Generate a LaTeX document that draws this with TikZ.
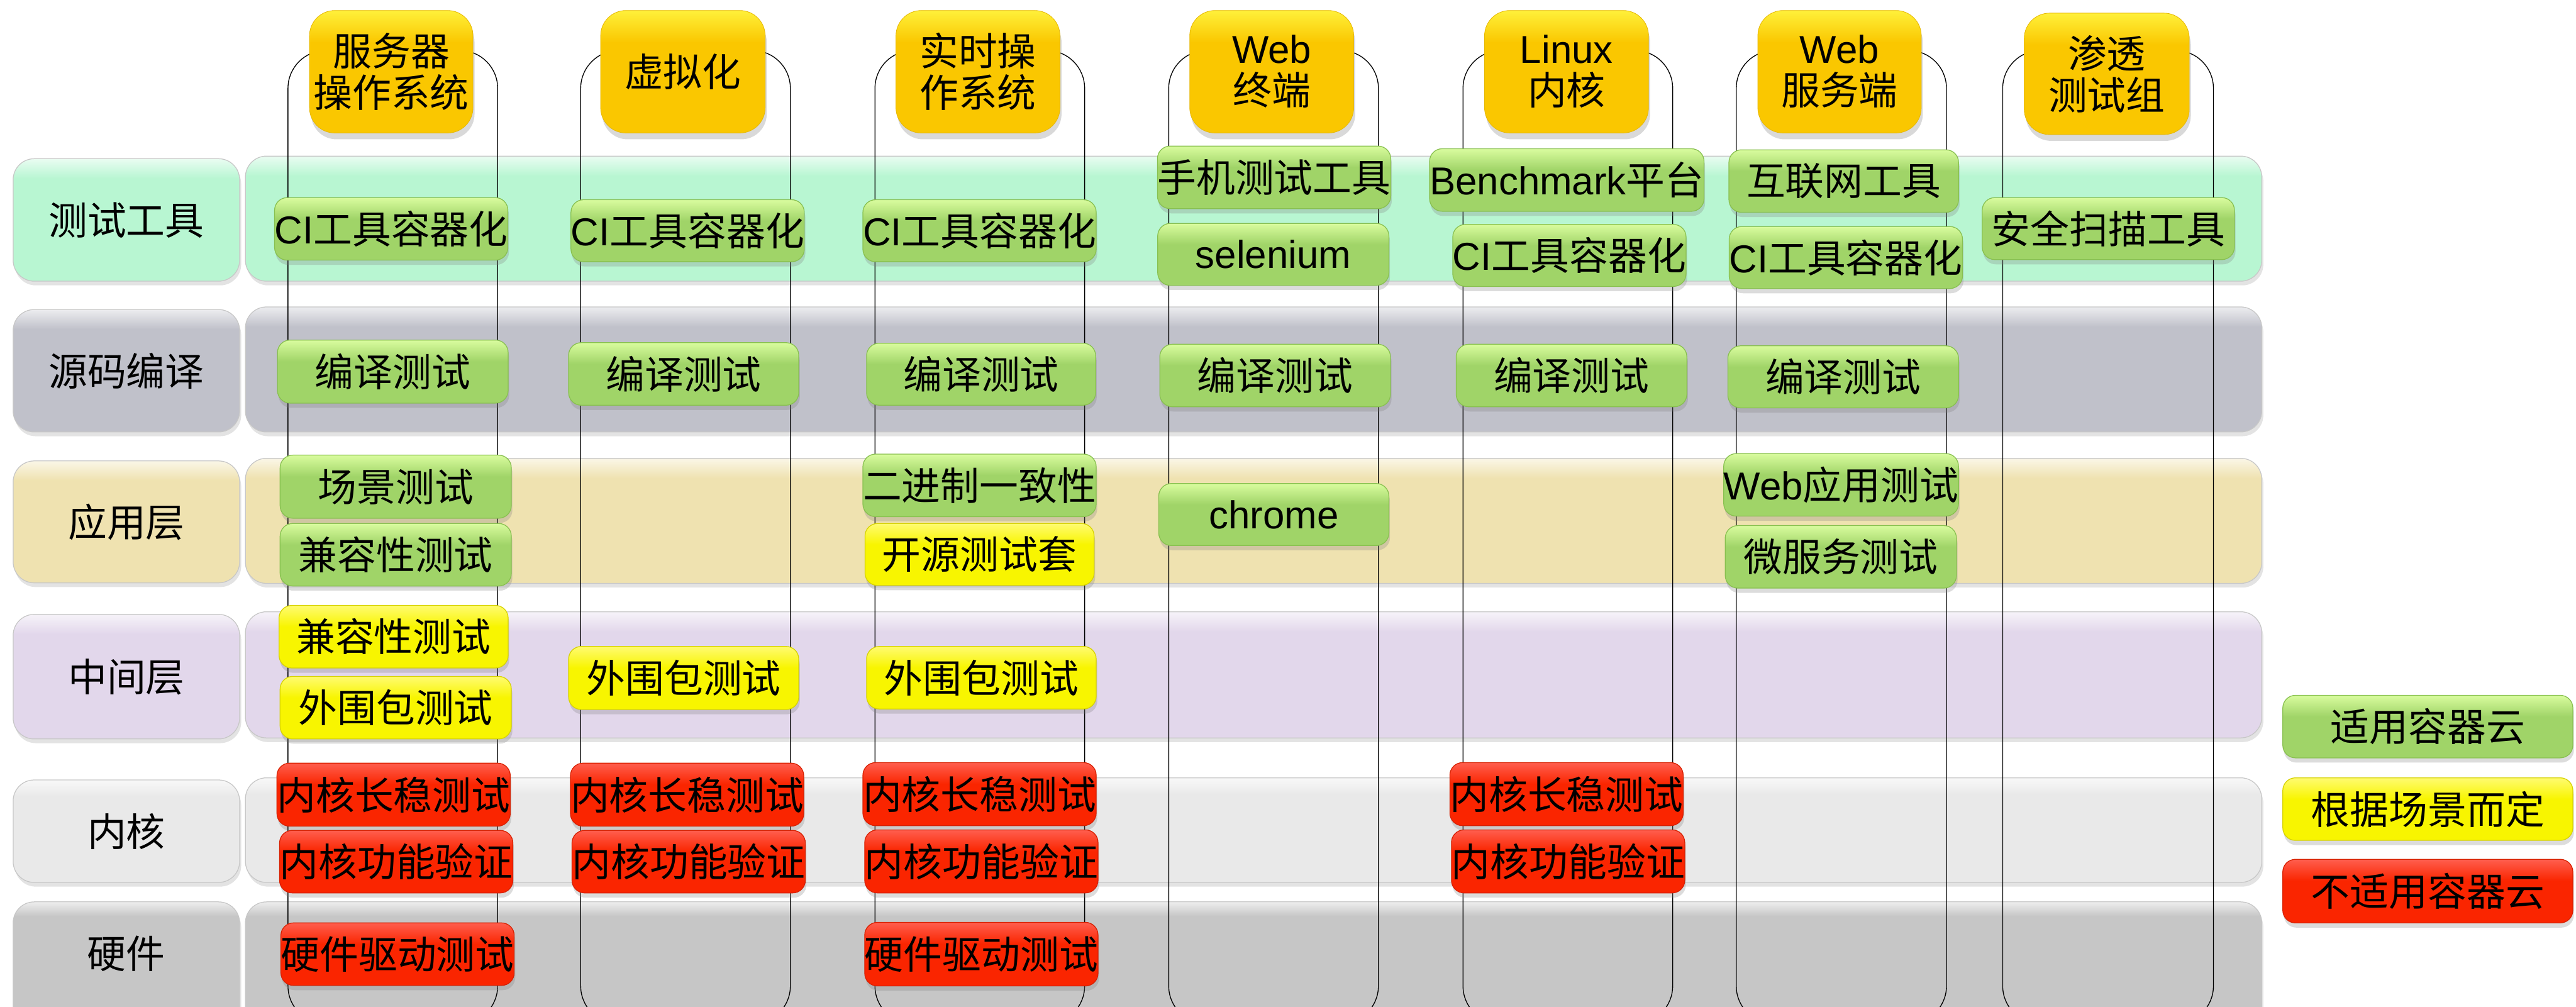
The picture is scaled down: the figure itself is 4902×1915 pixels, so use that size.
\documentclass[tikz,border=0pt]{standalone}
\usepackage{fontspec}
\setmainfont{Noto Sans CJK SC}
\newfontfamily\lat{Liberation Sans}
\usetikzlibrary{shadows}

\definecolor{gBase}{HTML}{A0D468}
\definecolor{gTop}{HTML}{D9FC9E}
\definecolor{gLine}{HTML}{88C050}
\definecolor{yBase}{HTML}{F8F500}
\definecolor{yTop}{HTML}{FFFB70}
\definecolor{yLine}{HTML}{D6D200}
\definecolor{rBase}{HTML}{FA2500}
\definecolor{rTop}{HTML}{FF5E4E}
\definecolor{rLine}{HTML}{D82000}
\definecolor{hBase}{HTML}{FAC700}
\definecolor{hTop}{HTML}{FFF03A}
\definecolor{bA}{HTML}{B8F6D2}
\definecolor{bB}{HTML}{C0C1CA}
\definecolor{bC}{HTML}{EFE2B0}
\definecolor{bD}{HTML}{E2D7EB}
\definecolor{bE}{HTML}{E9E9E9}
\definecolor{bF}{HTML}{C6C6C6}
\colorlet{bAt}{bA!30!white}
\colorlet{bBt}{bB!30!white}
\colorlet{bCt}{bC!30!white}
\colorlet{bDt}{bD!30!white}
\colorlet{bEt}{bE!30!white}
\colorlet{bFt}{bF!30!white}

\pgfdeclareverticalshading{shG}{100bp}{color(0bp)=(gBase); color(58bp)=(gBase); color(75bp)=(gTop); color(100bp)=(gTop)}
\pgfdeclareverticalshading{shY}{100bp}{color(0bp)=(yBase); color(58bp)=(yBase); color(75bp)=(yTop); color(100bp)=(yTop)}
\pgfdeclareverticalshading{shR}{100bp}{color(0bp)=(rBase); color(58bp)=(rBase); color(75bp)=(rTop); color(100bp)=(rTop)}
\pgfdeclareverticalshading{shH}{100bp}{color(0bp)=(hBase); color(62bp)=(hBase); color(75bp)=(hTop); color(100bp)=(hTop)}
\pgfdeclareverticalshading{shbA}{100bp}{color(0bp)=(bA); color(67bp)=(bA); color(75bp)=(bAt); color(100bp)=(bAt)}
\pgfdeclareverticalshading{shbB}{100bp}{color(0bp)=(bB); color(67bp)=(bB); color(75bp)=(bBt); color(100bp)=(bBt)}
\pgfdeclareverticalshading{shbC}{100bp}{color(0bp)=(bC); color(67bp)=(bC); color(75bp)=(bCt); color(100bp)=(bCt)}
\pgfdeclareverticalshading{shbD}{100bp}{color(0bp)=(bD); color(67bp)=(bD); color(75bp)=(bDt); color(100bp)=(bDt)}
\pgfdeclareverticalshading{shbE}{100bp}{color(0bp)=(bE); color(67bp)=(bE); color(75bp)=(bEt); color(100bp)=(bEt)}
\pgfdeclareverticalshading{shbF}{100bp}{color(0bp)=(bF); color(70bp)=(bF); color(75bp)=(bFt); color(100bp)=(bFt)}

\newcommand\PutNode[7]{\node[#2, minimum width={#5-#3}, minimum height={#6-#4}] (#1) at ({(#3+#5)/2},{(#4+#6)/2}) {#7};}

\tikzset{
  every node/.style={font=\fontsize{74}{79}\selectfont, inner sep=0pt, align=center},
  chipshadow/.style={drop shadow={shadow xshift=2pt, shadow yshift=-9pt, opacity=.28}},
  gchip/.style={rectangle, rounded corners=24pt, shade, shading=shG, draw=gLine, line width=1.5pt, chipshadow},
  ychip/.style={rectangle, rounded corners=24pt, shade, shading=shY, draw=yLine, line width=1.5pt, chipshadow},
  rchip/.style={rectangle, rounded corners=24pt, shade, shading=shR, draw=rLine, line width=1.5pt, chipshadow},
  head/.style={rectangle, rounded corners=48pt, shade, shading=shH, draw=hBase!92!black, line width=1pt,
    drop shadow={shadow xshift=3pt, shadow yshift=-12pt, opacity=.3}},
  band/.style={rectangle, rounded corners=40pt, shade, draw=black!22, line width=1.5pt,
    drop shadow={shadow xshift=3pt, shadow yshift=-8pt, opacity=.22}},
  colbox/.style={rectangle, rounded corners=72pt, draw=black, line width=1.6pt},
}

\begin{document}
\begin{tikzpicture}[x=1pt, y=-1pt]
\useasboundingbox (0,0) rectangle (4902,1915);
\clip (0,0) rectangle (4902,1915);

% row bands
\PutNode{bandA}{band, shading=shbA}{467}{297}{4304}{535}{}
\PutNode{bandB}{band, shading=shbB}{467}{584}{4304}{822}{}
\PutNode{bandC}{band, shading=shbC}{467}{872}{4304}{1110}{}
\PutNode{bandD}{band, shading=shbD}{467}{1164}{4304}{1404}{}
\PutNode{bandE}{band, shading=shbE}{467}{1480}{4304}{1679}{}
\PutNode{bandF}{band, shading=shbF}{467}{1716}{4304}{1990}{}

% row labels
\PutNode{labA}{band, shading=shbA}{25}{302}{456}{535}{测试工具}
\PutNode{labB}{band, shading=shbB}{25}{589}{456}{822}{源码编译}
\PutNode{labC}{band, shading=shbC}{25}{877}{456}{1109}{应用层}
\PutNode{labD}{band, shading=shbD}{25}{1169}{456}{1406}{中间层}
\PutNode{labE}{band, shading=shbE}{25}{1484}{456}{1679}{内核}
\PutNode{labF}{band, shading=shbF}{25}{1716}{456}{1990}{}
\node at (240,1815) (labFt) {硬件};

% column outlines
\PutNode{colA}{colbox}{548}{96}{947}{1948}{}
\PutNode{colB}{colbox}{1105}{96}{1504}{1948}{}
\PutNode{colC}{colbox}{1665}{96}{2064}{1948}{}
\PutNode{colD}{colbox}{2224}{96}{2623}{1948}{}
\PutNode{colE}{colbox}{2784}{96}{3183}{1948}{}
\PutNode{colF}{colbox}{3304}{96}{3704}{1948}{}
\PutNode{colG}{colbox}{3811}{96}{4212}{1948}{}

% headers
\PutNode{hA}{head}{589}{20}{900}{253}{服务器\\操作系统}
\PutNode{hB}{head}{1143}{20}{1456}{253}{虚拟化}
\PutNode{hC}{head}{1705}{20}{2017}{253}{实时操\\作系统}
\PutNode{hD}{head}{2264}{20}{2576}{253}{{\lat Web}\\终端}
\PutNode{hE}{head}{2825}{20}{3137}{253}{{\lat Linux}\\内核}
\PutNode{hF}{head}{3345}{20}{3656}{253}{{\lat Web}\\服务端}
\PutNode{hG}{head}{3852}{25}{4166}{256}{渗透\\测试组}

% row 1: test tools
\PutNode{a1}{gchip}{525}{376}{964}{495}{{\lat CI}工具容器化}
\PutNode{a2}{gchip}{1089}{380}{1528}{498}{{\lat CI}工具容器化}
\PutNode{a3}{gchip}{1646}{380}{2082}{498}{{\lat CI}工具容器化}
\PutNode{a4}{gchip}{2205}{278}{2644}{397}{手机测试工具}
\PutNode{a4b}{gchip}{2203}{425}{2643}{543}{\lat selenium}
\PutNode{a5}{gchip}{2723}{283}{3240}{402}{{\lat Benchmark}平台}
\PutNode{a5b}{gchip}{2768}{427}{3205}{545}{{\lat CI}工具容器化}
\PutNode{a6}{gchip}{3290}{285}{3727}{404}{互联网工具}
\PutNode{a6b}{gchip}{3292}{431}{3733}{549}{{\lat CI}工具容器化}
\PutNode{a7}{gchip}{3772}{376}{4252}{494}{安全扫描工具}

% row 2: build
\PutNode{b1}{gchip}{528}{647}{967}{767}{编译测试}
\PutNode{b2}{gchip}{1082}{652}{1520}{771}{编译测试}
\PutNode{b3}{gchip}{1649}{653}{2085}{771}{编译测试}
\PutNode{b4}{gchip}{2207}{655}{2646}{774}{编译测试}
\PutNode{b5}{gchip}{2771}{655}{3210}{774}{编译测试}
\PutNode{b6}{gchip}{3288}{658}{3727}{776}{编译测试}

% row 3: application
\PutNode{c1}{gchip}{533}{866}{973}{986}{场景测试}
\PutNode{c1b}{gchip}{533}{996}{973}{1115}{兼容性测试}
\PutNode{c3}{gchip}{1646}{864}{2082}{983}{二进制一致性}
\PutNode{c3b}{ychip}{1646}{996}{2082}{1114}{开源测试套}
\PutNode{c4}{gchip}{2205}{920}{2643}{1038}{\lat chrome}
\PutNode{c6}{gchip}{3283}{863}{3724}{982}{{\lat Web}应用测试}
\PutNode{c6b}{gchip}{3283}{1000}{3723}{1119}{微服务测试}

% row 4: middleware
\PutNode{d1}{ychip}{531}{1152}{967}{1271}{兼容性测试}
\PutNode{d1b}{ychip}{533}{1287}{973}{1406}{外围包测试}
\PutNode{d2}{ychip}{1082}{1230}{1520}{1350}{外围包测试}
\PutNode{d3}{ychip}{1649}{1230}{2086}{1349}{外围包测试}

% row 5: kernel
\PutNode{e1}{rchip}{529}{1452}{969}{1572}{内核长稳测试}
\PutNode{e1b}{rchip}{533}{1580}{975}{1699}{内核功能验证}
\PutNode{e2}{rchip}{1087}{1452}{1528}{1572}{内核长稳测试}
\PutNode{e2b}{rchip}{1090}{1580}{1531}{1699}{内核功能验证}
\PutNode{e3}{rchip}{1643}{1451}{2085}{1571}{内核长稳测试}
\PutNode{e3b}{rchip}{1647}{1579}{2088}{1699}{内核功能验证}
\PutNode{e5}{rchip}{2760}{1451}{3202}{1571}{内核长稳测试}
\PutNode{e5b}{rchip}{2763}{1579}{3205}{1699}{内核功能验证}

% row 6: hardware
\PutNode{f1}{rchip}{536}{1756}{977}{1875}{硬件驱动测试}
\PutNode{f3}{rchip}{1647}{1755}{2088}{1876}{硬件驱动测试}

% legend
\PutNode{lg1}{gchip}{4344}{1323}{4896}{1442}{适用容器云}
\PutNode{lg2}{ychip}{4344}{1480}{4896}{1599}{根据场景而定}
\PutNode{lg3}{rchip}{4344}{1635}{4896}{1756}{不适用容器云}
\end{tikzpicture}
\end{document}
